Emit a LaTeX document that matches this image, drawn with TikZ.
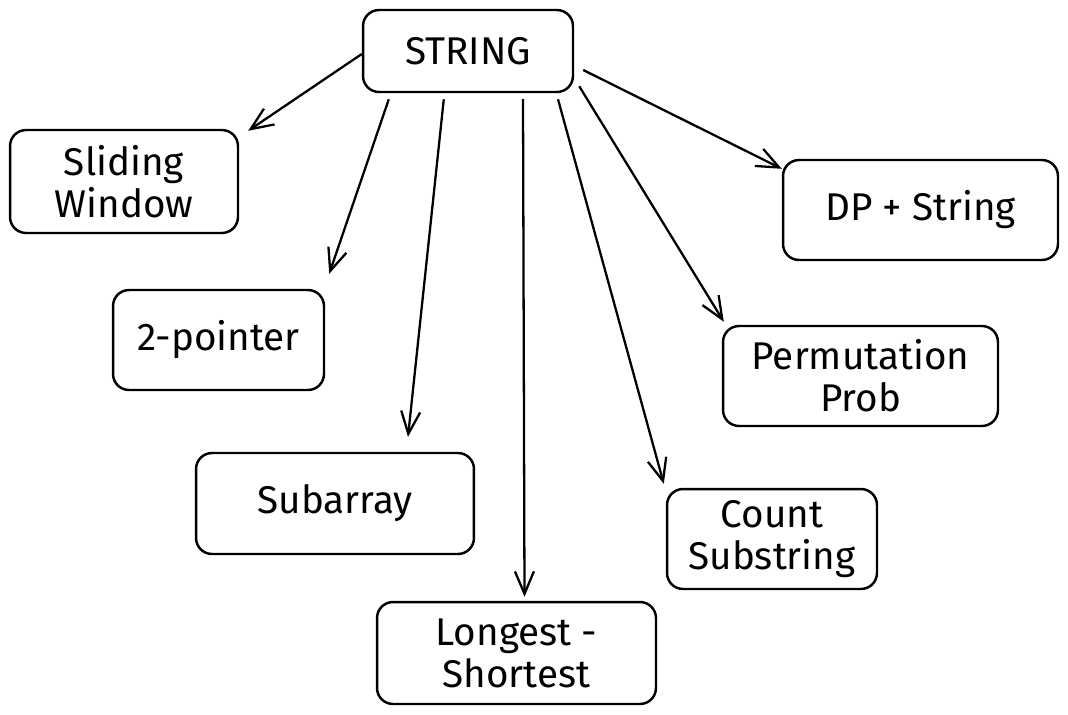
\documentclass[tikz,border=0pt]{standalone}
\usepackage{fontspec}
\setmainfont{Fira Sans}
\usetikzlibrary{arrows.meta,calc}

\begin{document}
\begin{tikzpicture}[x=0.02cm, y=-0.02cm,
	box/.style={draw, line width=1.4pt, rounded corners=0.32cm, align=center,
		font=\fontsize{22}{24}\selectfont, inner sep=0pt},
	link/.style={line width=1.3pt, -{Straight Barb[length=0.45cm, width=0.38cm, line width=1.3pt]}}]
	  \useasboundingbox (0,0) rectangle (1068,714);
	  \node [box, minimum width=4.2cm, minimum height=1.64cm] (str) at (468, 51) {STRING};
	  \node [box, minimum width=4.56cm, minimum height=2.06cm] (sw) at (124, 181.5) {Sliding\\Window};
	  \node [box, minimum width=5.5cm, minimum height=2cm] (dp) at (920.5, 210) {DP + String};
	  \node [box, minimum width=4.22cm, minimum height=2cm] (tp) at (218.5, 340) {2-pointer};
	  \node [box, minimum width=5.5cm, minimum height=2cm] (pp) at (860.5, 376) {Permutation\\Prob};
	  \node [box, minimum width=5.56cm, minimum height=2.02cm] (sub) at (335, 503.5) {Subarray};
	  \node [box, minimum width=4.2cm, minimum height=2cm] (cs) at (772, 539) {Count\\Substring};
	  \node [box, minimum width=5.58cm, minimum height=2.04cm] (ls) at (516.5, 653) {Longest -\\Shortest};
	  % arrows out of STRING
	  \draw [link] ($(str.west)+(0,3)$) -- ($(sw.north east)+(9,2)$);
	  \draw [link] ($(str.south west)+(27,6)$) -- ($(tp.north east)+(4,-15)$);
	  \draw [link] ($(str.south west)+(82,6)$) -- ($(sub.north)+(73,-15)$);
	  \draw [link] ($(str.south)+(55,6)$) -- ($(ls.north)+(8,-4)$);
	  \draw [link] ($(str.south)+(90,6)$) -- ($(cs.north west)+(-2,-4)$);
	  \draw [link] ($(str.south east)+(5,-7)$) -- ($(pp.north west)+(2,-3)$);
	  \draw [link] ($(str.east)+(9,19)$) -- ($(dp.north west)+(0,10)$);
	 \end{tikzpicture}
\end{document}
